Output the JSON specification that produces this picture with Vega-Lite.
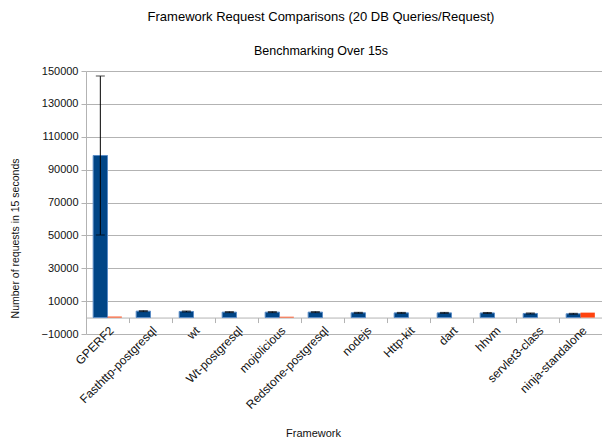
{
  "$schema": "https://vega.github.io/schema/vega-lite/v6.json",
  "width": 516,
  "height": 263,
  "autosize": "none",
  "padding": {"left": 86, "top": 71, "right": 0, "bottom": 105},
  "background": "white",
  "config": {
    "view": {"stroke": null},
    "font": "Liberation Sans",
    "axis": {"labelOverlap": false},
    "axisY": {"labelOverlap": false}
  },
  "title": {
    "text": "Framework Request Comparisons (20 DB Queries/Request)",
    "subtitle": "Benchmarking Over 15s",
    "anchor": "middle",
    "frame": "group",
    "dx": -23,
    "offset": 8,
    "font": "Liberation Sans",
    "fontSize": 13,
    "fontWeight": "normal",
    "color": "#000000",
    "subtitleFont": "Liberation Sans",
    "subtitleFontSize": 12.5,
    "subtitleColor": "#000000",
    "subtitlePadding": 21
  },
  "data": {
    "values": [
      {"framework": "GPERF2", "series": "A", "value": 98600, "lo": 50300, "hi": 146900},
      {"framework": "GPERF2", "series": "B", "value": 600, "lo": 600, "hi": 600},
      {"framework": "Fasthttp-postgresql", "series": "A", "value": 3900, "lo": 3600, "hi": 4200},
      {"framework": "Fasthttp-postgresql", "series": "B", "value": 0, "lo": 0, "hi": 0},
      {"framework": "wt", "series": "A", "value": 3700, "lo": 3400, "hi": 4000},
      {"framework": "wt", "series": "B", "value": 0, "lo": 0, "hi": 0},
      {"framework": "Wt-postgresql", "series": "A", "value": 3300, "lo": 3000, "hi": 3600},
      {"framework": "Wt-postgresql", "series": "B", "value": 0, "lo": 0, "hi": 0},
      {"framework": "mojolicious", "series": "A", "value": 3300, "lo": 3000, "hi": 3600},
      {"framework": "mojolicious", "series": "B", "value": 500, "lo": 500, "hi": 500},
      {"framework": "Redstone-postgresql", "series": "A", "value": 3300, "lo": 3000, "hi": 3600},
      {"framework": "Redstone-postgresql", "series": "B", "value": 0, "lo": 0, "hi": 0},
      {"framework": "nodejs", "series": "A", "value": 2900, "lo": 2600, "hi": 3200},
      {"framework": "nodejs", "series": "B", "value": 0, "lo": 0, "hi": 0},
      {"framework": "Http-kit", "series": "A", "value": 2850, "lo": 2550, "hi": 3150},
      {"framework": "Http-kit", "series": "B", "value": 0, "lo": 0, "hi": 0},
      {"framework": "dart", "series": "A", "value": 2850, "lo": 2550, "hi": 3150},
      {"framework": "dart", "series": "B", "value": 0, "lo": 0, "hi": 0},
      {"framework": "hhvm", "series": "A", "value": 2800, "lo": 2500, "hi": 3100},
      {"framework": "hhvm", "series": "B", "value": 0, "lo": 0, "hi": 0},
      {"framework": "servlet3-class", "series": "A", "value": 2500, "lo": 2200, "hi": 2800},
      {"framework": "servlet3-class", "series": "B", "value": 0, "lo": 0, "hi": 0},
      {"framework": "ninja-standalone", "series": "A", "value": 2300, "lo": 2000, "hi": 2600},
      {"framework": "ninja-standalone", "series": "B", "value": 3000, "lo": 3000, "hi": 3000}
    ]
  },
  "encoding": {
    "x": {
      "field": "framework",
      "type": "nominal",
      "sort": null,
      "scale": {"paddingInner": 0, "paddingOuter": 0},
      "axis": {
        "offset": -16.44,
        "tickBand": "extent",
        "tickSize": 5,
        "tickColor": "#b3b3b3",
        "domainColor": "#b3b3b3",
        "grid": false,
        "labelAngle": -45,
        "labelAlign": "right",
        "labelBaseline": "top",
        "labelPadding": 2,
        "labelFontSize": 12,
        "labelColor": "#111111",
        "labelOverlap": false,
        "title": "Framework",
        "titleFontSize": 11,
        "titleFontWeight": "normal",
        "titleColor": "#111111",
        "titleX": 227,
        "titleY": 116,
        "titleBaseline": "middle"
      }
    },
    "xOffset": {"field": "series", "type": "nominal", "scale": {"paddingInner": 0, "paddingOuter": 0.5}}
  },
  "layer": [
    {
      "mark": {"type": "bar", "strokeWidth": 1},
      "encoding": {
        "y": {
          "field": "value",
          "type": "quantitative",
          "title": "Number of requests in 15 seconds",
          "scale": {"domain": [-10000, 150000], "nice": false, "zero": false},
          "axis": {
            "values": [-10000, 10000, 30000, 50000, 70000, 90000, 110000, 130000, 150000],
            "format": "d",
            "labelOverlap": false,
            "grid": true,
            "gridColor": "#b3b3b3",
            "domainColor": "#b3b3b3",
            "tickColor": "#b3b3b3",
            "tickSize": 5,
            "labelPadding": 3,
            "labelFontSize": 11,
            "labelColor": "#111111",
            "titleFontSize": 10.5,
            "titleFontWeight": "normal",
            "titleColor": "#111111",
            "titleX": -71,
            "titleY": 167,
            "titleBaseline": "middle"
          }
        },
        "color": {"field": "series", "type": "nominal", "scale": {"domain": ["A", "B"], "range": ["#004586", "#ff420e"]}, "legend": null},
        "stroke": {"field": "series", "type": "nominal", "scale": {"domain": ["A", "B"], "range": ["#5b8cc6", "transparent"]}, "legend": null}
      }
    },
    {
      "transform": [{"filter": "datum.series === 'A'"}],
      "mark": {"type": "rule", "color": "#000000", "strokeWidth": 1},
      "encoding": {
        "y": {"field": "lo", "type": "quantitative", "title": "Number of requests in 15 seconds", "axis": {"labelOverlap": false, "values": [-10000, 10000, 30000, 50000, 70000, 90000, 110000, 130000, 150000]}},
        "y2": {"field": "hi"}
      }
    },
    {
      "transform": [{"filter": "datum.series === 'A'"}],
      "mark": {"type": "tick", "color": "#000000", "size": 9, "thickness": 1},
      "encoding": {
        "y": {"field": "lo", "type": "quantitative", "title": "Number of requests in 15 seconds", "axis": {"labelOverlap": false, "values": [-10000, 10000, 30000, 50000, 70000, 90000, 110000, 130000, 150000]}}
      }
    },
    {
      "transform": [{"filter": "datum.series === 'A'"}],
      "mark": {"type": "tick", "color": "#000000", "size": 9, "thickness": 1},
      "encoding": {
        "y": {"field": "hi", "type": "quantitative", "title": "Number of requests in 15 seconds", "axis": {"labelOverlap": false, "values": [-10000, 10000, 30000, 50000, 70000, 90000, 110000, 130000, 150000]}}
      }
    }
  ]
}
